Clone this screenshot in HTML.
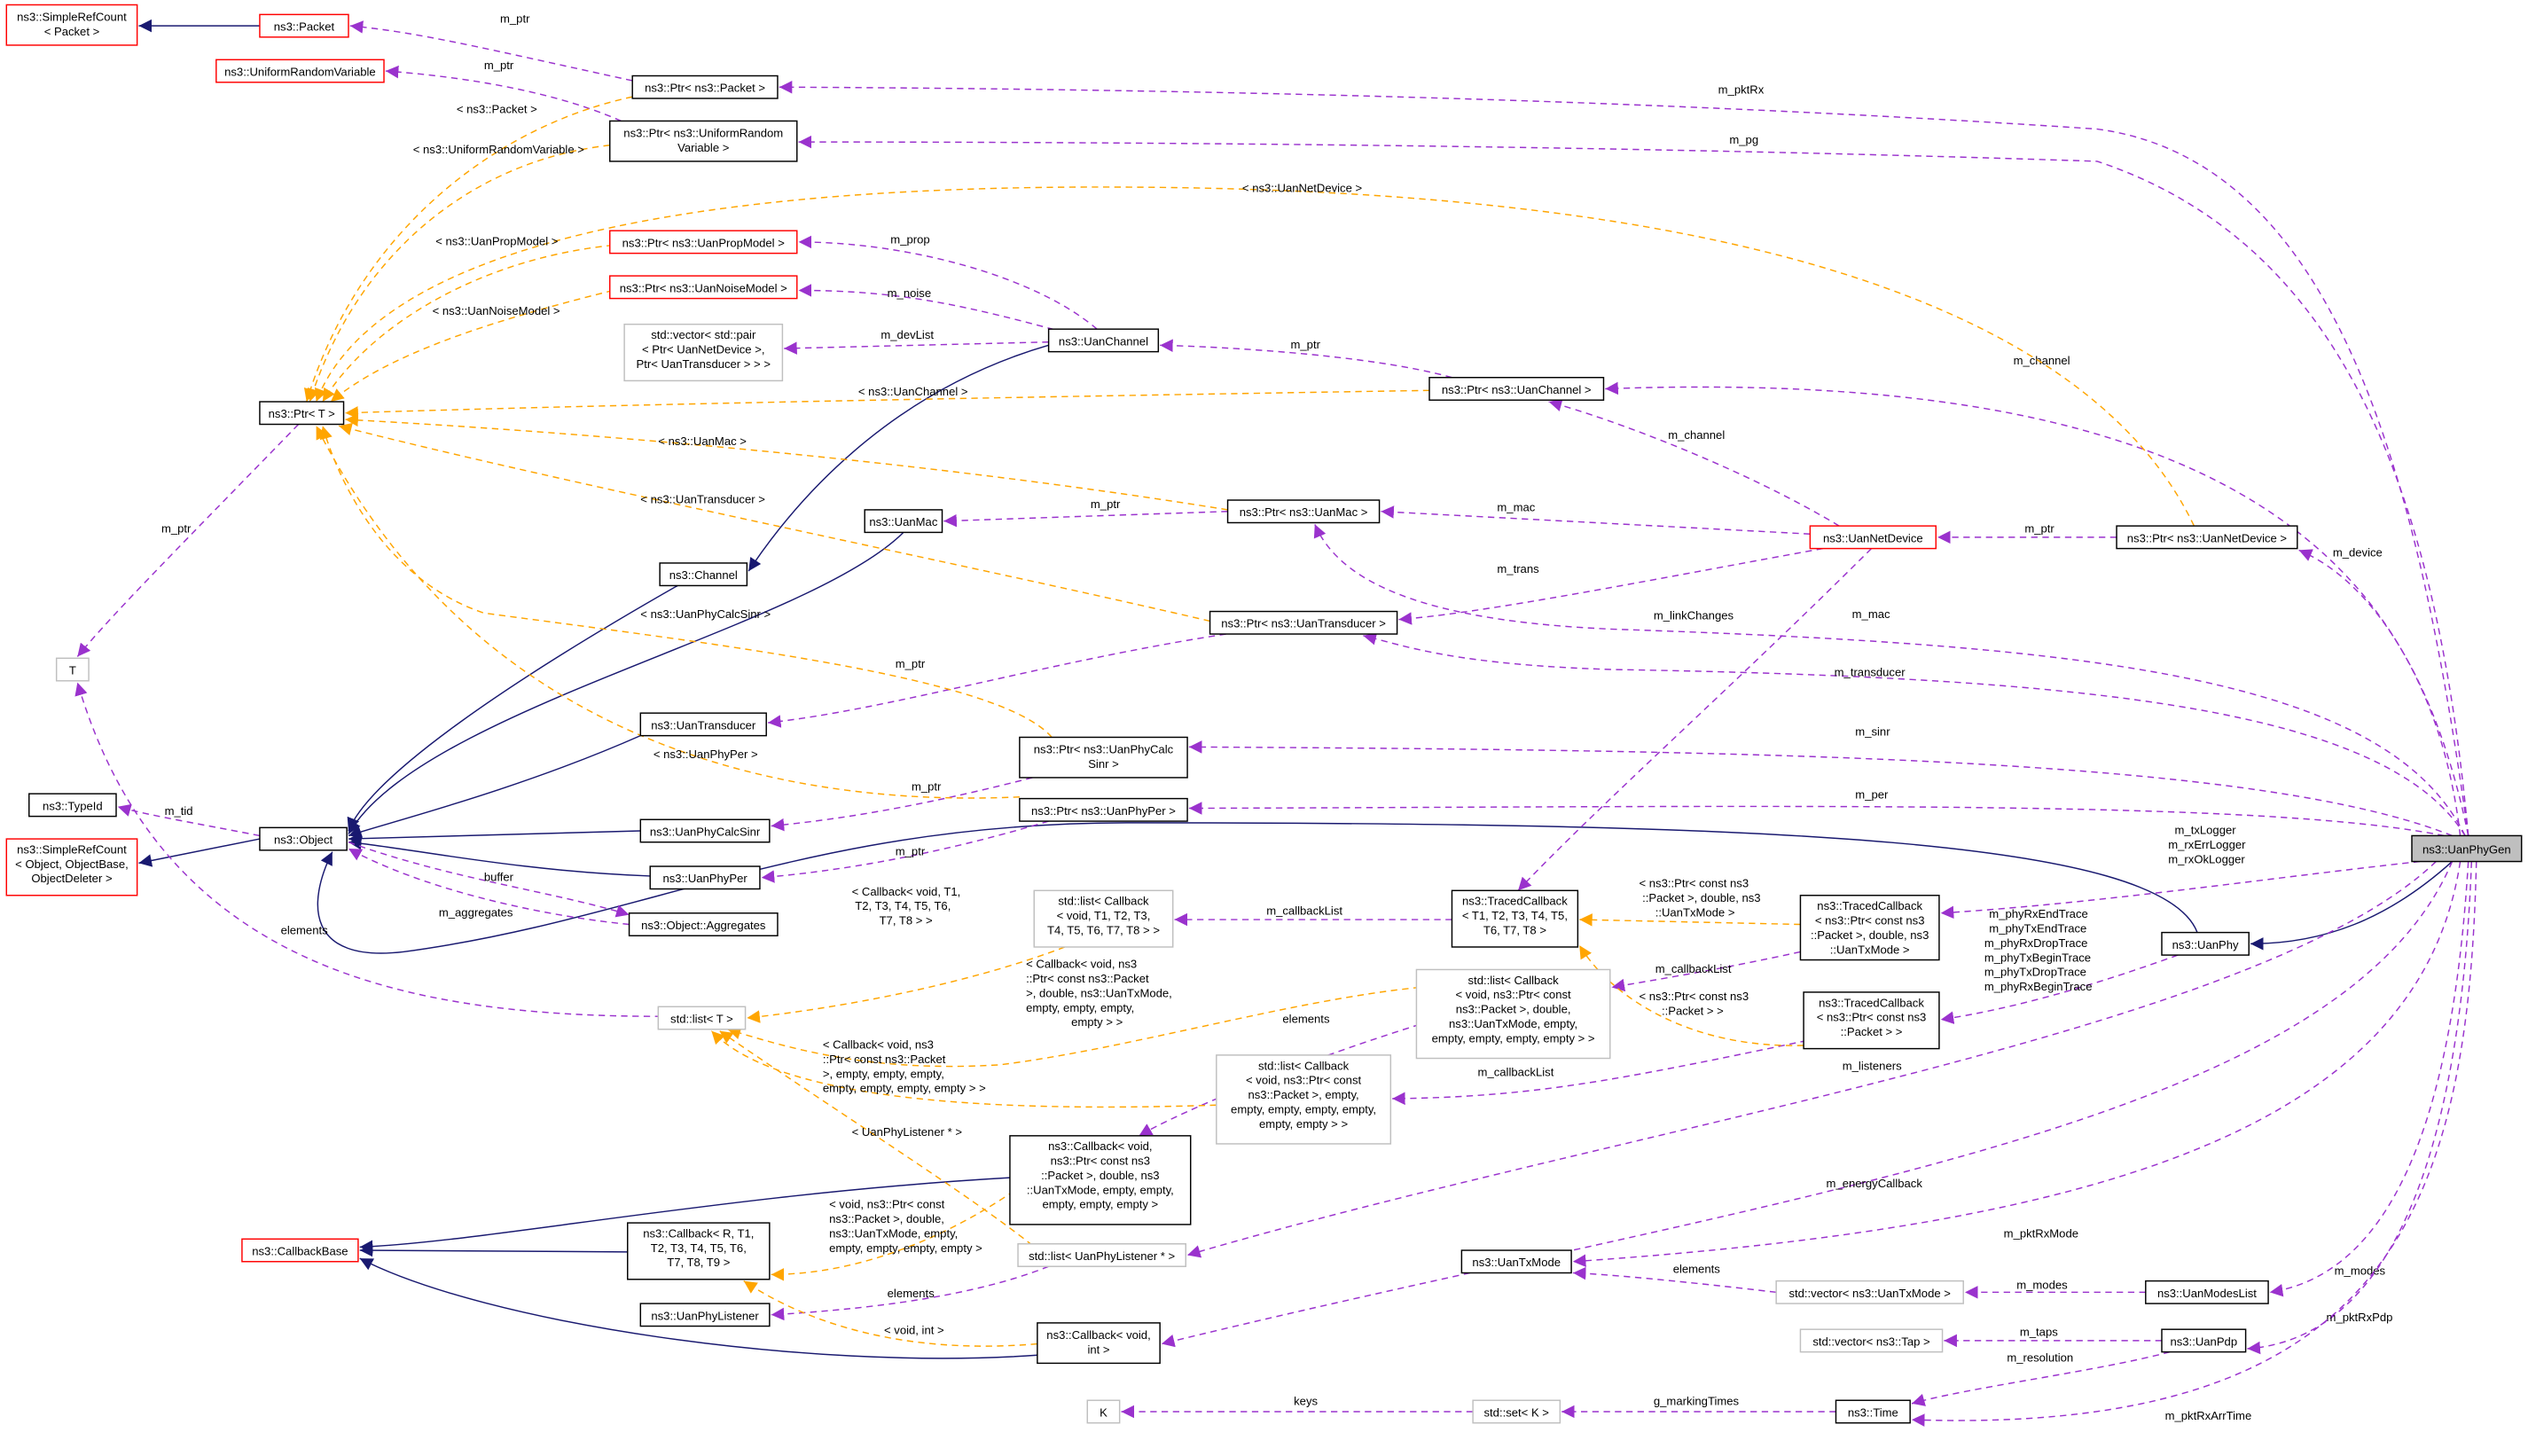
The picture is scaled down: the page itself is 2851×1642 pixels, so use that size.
<!DOCTYPE html>
<html><head><meta charset="utf-8"><style>
html,body{margin:0;padding:0;background:#fff;}
svg{display:block;font-family:"Liberation Sans",sans-serif;}
text{font-size:7.2px;fill:#000;}
.n{fill:#fff;stroke:#000;stroke-width:0.8;}
.r{fill:#fff;stroke:#ff0000;stroke-width:0.8;}
.g{fill:#fff;stroke:#bfbfbf;stroke-width:0.8;}
.p{fill:none;stroke:#9a32cd;stroke-width:0.8;stroke-dasharray:4,3;marker-end:url(#mp);}
.o{fill:none;stroke:#ffa500;stroke-width:0.8;stroke-dasharray:4,3;marker-end:url(#mo);}
.b{fill:none;stroke:#191970;stroke-width:0.8;marker-end:url(#mb);}
</style></head><body>
<svg width="2851" height="1642" viewBox="0 0 1567 902.5" xmlns="http://www.w3.org/2000/svg">
<defs>
<marker id="mp" markerUnits="userSpaceOnUse" markerWidth="9" markerHeight="8" refX="8" refY="4" orient="auto"><path d="M0,0 L8,4 L0,8z" fill="#9a32cd"/></marker>
<marker id="mo" markerUnits="userSpaceOnUse" markerWidth="9" markerHeight="8" refX="8" refY="4" orient="auto"><path d="M0,0 L8,4 L0,8z" fill="#ffa500"/></marker>
<marker id="mb" markerUnits="userSpaceOnUse" markerWidth="9" markerHeight="8" refX="8" refY="4" orient="auto"><path d="M0,0 L8,4 L0,8z" fill="#191970"/></marker>
</defs>
<rect width="1567" height="902.5" fill="#fff"/>
<!-- navy edges -->
<path class="b" d="M161,16 L86,16"/>
<path class="b" d="M650,214 C560,240 500,300 464,354"/>
<path class="b" d="M560,330 C500,390 260,440 216,517"/>
<path class="b" d="M420,363 C320,420 230,480 216,515"/>
<path class="b" d="M397,456 C320,490 240,510 216,518"/>
<path class="b" d="M397,515 L216,520"/>
<path class="b" d="M403,543 C320,540 250,525 216,522"/>
<path class="b" d="M1362,578 C1340,520 1100,510 700,510 C500,510 400,570 250,590 C190,597 190,560 206,528"/>
<path class="b" d="M1520,534 C1480,570 1440,585 1395,585"/>
<path class="b" d="M161,520 L86,535"/>
<path class="b" d="M626,730 C450,740 300,770 223,773"/>
<path class="b" d="M389,776 L223,775"/>
<path class="b" d="M643,840 C500,850 300,820 223,780"/>
<!-- purple edges -->
<path class="p" d="M392,50 C300,30 260,20 217,16"/><text x="310" y="14">m_ptr</text>
<path class="p" d="M385,75 C340,55 280,47 239,44"/><text x="300" y="43">m_ptr</text>
<path class="p" d="M1530,518 C1500,300 1450,100 1300,80 C1000,60 700,55 483,54"/><text x="1065" y="58">m_pktRx</text>
<path class="p" d="M1530,518 C1510,300 1450,150 1300,100 C1000,90 700,88 495,88"/><text x="1072" y="89">m_pg</text>
<path class="p" d="M680,204 C640,170 560,150 495,150"/><text x="552" y="151">m_prop</text>
<path class="p" d="M660,206 C600,190 560,180 495,180"/><text x="550" y="184">m_noise</text>
<path class="p" d="M650,212 L486,216"/><text x="546" y="210">m_devList</text>
<path class="p" d="M900,234 C850,220 760,215 719,214"/><text x="800" y="216">m_ptr</text>
<path class="p" d="M1525,518 C1500,300 1300,230 995,241"/><text x="1248" y="226">m_channel</text>
<path class="p" d="M1140,326 C1080,290 1000,260 960,249"/><text x="1034" y="272">m_channel</text>
<path class="p" d="M1122,331 L856,317"/><text x="928" y="317">m_mac</text>
<path class="p" d="M761,317 L585,323"/><text x="676" y="315">m_ptr</text>
<path class="p" d="M1130,340 C1020,360 920,380 867,384"/><text x="928" y="355">m_trans</text>
<path class="p" d="M1312,333 L1201,333"/><text x="1255" y="330">m_ptr</text>
<path class="p" d="M1530,518 C1510,420 1470,360 1425,341"/><text x="1446" y="345">m_device</text>
<path class="p" d="M1160,340 C1080,420 990,500 941,552"/><text x="1025" y="384">m_linkChanges</text>
<path class="p" d="M1528,518 C1480,420 1300,400 1000,390 C880,385 830,360 815,325"/><text x="1148" y="383">m_mac</text>
<path class="p" d="M1528,518 C1480,440 1300,420 1000,415 C900,412 870,400 845,394"/><text x="1137" y="419">m_transducer</text>
<path class="p" d="M760,393 C650,410 550,440 476,448"/><text x="555" y="414">m_ptr</text>
<path class="p" d="M1520,518 C1400,470 1100,465 737,463"/><text x="1150" y="456">m_sinr</text>
<path class="p" d="M1515,518 C1400,495 1100,500 737,501"/><text x="1150" y="495">m_per</text>
<path class="p" d="M640,482 C570,500 520,508 478,512"/><text x="565" y="490">m_ptr</text>
<path class="p" d="M650,509 C580,530 520,540 472,544"/><text x="555" y="530">m_ptr</text>
<path class="p" d="M185,263 C120,330 70,380 48,407"/><text x="100" y="330">m_ptr</text>
<path class="p" d="M161,518 C120,510 90,505 73,500"/><text x="102" y="505">m_tid</text>
<path class="p" d="M390,573 C330,567 260,550 216,526"/><text x="272" y="568">m_aggregates</text>
<path class="p" d="M216,522 C280,545 340,552 390,567"/><text x="300" y="546">buffer</text>
<path class="p" d="M410,630 C250,630 100,600 48,423"/><text x="174" y="579">elements</text>
<path class="p" d="M900,570 L728,570"/><text x="785" y="567">m_callbackList</text>
<path class="p" d="M1116,590 C1070,600 1040,605 999,612"/><text x="1026" y="603">m_callbackList</text>
<path class="p" d="M1120,645 C1000,670 950,680 863,681"/><text x="916" y="667">m_callbackList</text>
<path class="p" d="M1500,534 C1400,545 1300,560 1203,566"/><text x="1348" y="517">m_txLogger</text><text x="1344" y="526">m_rxErrLogger</text><text x="1344" y="535">m_rxOkLogger</text>
<path class="p" d="M1350,592 C1300,610 1250,625 1203,632"/><text x="1233" y="569">m_phyRxEndTrace</text><text x="1233" y="578">m_phyTxEndTrace</text><text x="1230" y="587">m_phyRxDropTrace</text><text x="1230" y="596">m_phyTxBeginTrace</text><text x="1230" y="605">m_phyTxDropTrace</text><text x="1230" y="614">m_phyRxBeginTrace</text>
<path class="p" d="M880,635 C800,660 730,690 706,704"/><text x="795" y="634">elements</text>
<path class="p" d="M1510,534 C1400,640 1000,700 736,778"/><text x="1142" y="663">m_listeners</text>
<path class="p" d="M1520,534 C1450,700 1100,740 720,833"/><text x="1132" y="736">m_energyCallback</text>
<path class="p" d="M650,785 C600,805 530,812 478,815"/><text x="550" y="804">elements</text>
<path class="p" d="M1525,534 C1500,700 1300,760 975,782"/><text x="1242" y="767">m_pktRxMode</text>
<path class="p" d="M1101,801 C1050,795 1000,790 975,789"/><text x="1037" y="789">elements</text>
<path class="p" d="M1330,801 L1218,801"/><text x="1250" y="799">m_modes</text>
<path class="p" d="M1530,534 C1520,700 1480,790 1407,801"/><text x="1447" y="790">m_modes</text>
<path class="p" d="M1340,831 L1205,831"/><text x="1252" y="828">m_taps</text>
<path class="p" d="M1532,534 C1525,720 1480,830 1393,836"/><text x="1442" y="819">m_pktRxPdp</text>
<path class="p" d="M1345,838 C1300,850 1220,860 1185,870"/><text x="1244" y="844">m_resolution</text>
<path class="p" d="M1535,534 C1530,750 1480,890 1185,880"/><text x="1342" y="880">m_pktRxArrTime</text>
<path class="p" d="M913,875 L695,875"/><text x="802" y="871">keys</text>
<path class="p" d="M1138,875 L968,875"/><text x="1025" y="871">g_markingTimes</text>
<!-- orange edges -->
<path class="o" d="M392,60 C300,80 220,150 190,249"/><text x="283" y="70">&lt; ns3::Packet &gt;</text>
<path class="o" d="M378,90 C290,100 220,160 192,249"/><text x="256" y="95">&lt; ns3::UniformRandomVariable &gt;</text>
<path class="o" d="M1360,326 C1300,200 1100,118 700,116 C400,114 230,160 196,249"/><text x="770" y="119">&lt; ns3::UanNetDevice &gt;</text>
<path class="o" d="M380,152 C300,160 230,200 200,249"/><text x="270" y="152">&lt; ns3::UanPropModel &gt;</text>
<path class="o" d="M380,180 C300,200 240,220 205,249"/><text x="268" y="195">&lt; ns3::UanNoiseModel &gt;</text>
<path class="o" d="M886,242 C700,245 400,250 214,256"/><text x="532" y="245">&lt; ns3::UanChannel &gt;</text>
<path class="o" d="M761,316 C600,290 400,270 214,260"/><text x="408" y="276">&lt; ns3::UanMac &gt;</text>
<path class="o" d="M750,385 C600,350 350,300 210,264"/><text x="397" y="312">&lt; ns3::UanTransducer &gt;</text>
<path class="o" d="M652,457 C620,420 450,400 300,380 C240,360 210,300 200,264"/><text x="397" y="383">&lt; ns3::UanPhyCalcSinr &gt;</text>
<path class="o" d="M632,494 C500,500 300,470 196,264"/><text x="405" y="470">&lt; ns3::UanPhyPer &gt;</text>
<path class="o" d="M660,587 C600,610 520,625 463,631"/><text x="528" y="555">&lt; Callback&lt; void, T1,</text><text x="530" y="564">T2, T3, T4, T5, T6,</text><text x="545" y="573">T7, T8 &gt; &gt;</text>
<path class="o" d="M880,612 C800,620 700,650 620,660 C540,665 490,650 451,638"/><text x="636" y="600">&lt; Callback&lt; void, ns3</text><text x="636" y="609">::Ptr&lt; const ns3::Packet</text><text x="636" y="618">&gt;, double, ns3::UanTxMode,</text><text x="636" y="627">empty, empty, empty,</text><text x="664" y="636">empty &gt; &gt;</text>
<path class="o" d="M754,685 C600,690 480,680 441,639"/><text x="510" y="650">&lt; Callback&lt; void, ns3</text><text x="510" y="659">::Ptr&lt; const ns3::Packet</text><text x="510" y="668">&gt;, empty, empty, empty,</text><text x="510" y="677">empty, empty, empty, empty &gt; &gt;</text>
<path class="o" d="M640,772 C600,740 520,690 446,639"/><text x="528" y="704">&lt; UanPhyListener * &gt;</text>
<path class="o" d="M1116,573 L979,570"/><text x="1016" y="550">&lt; ns3::Ptr&lt; const ns3</text><text x="1018" y="559">::Packet &gt;, double, ns3</text><text x="1026" y="568">::UanTxMode &gt;</text>
<path class="o" d="M1118,648 C1050,650 1000,620 979,586"/><text x="1016" y="620">&lt; ns3::Ptr&lt; const ns3</text><text x="1030" y="629">::Packet &gt; &gt;</text>
<path class="o" d="M640,730 C600,760 540,790 478,790"/><text x="514" y="749">&lt; void, ns3::Ptr&lt; const</text><text x="514" y="758">ns3::Packet &gt;, double,</text><text x="514" y="767">ns3::UanTxMode, empty,</text><text x="514" y="776">empty, empty, empty, empty &gt;</text>
<path class="o" d="M643,833 C560,840 500,820 461,794"/><text x="548" y="827">&lt; void, int &gt;</text>
<!-- nodes -->
<g text-anchor="middle">
<rect class="r" x="4" y="3" width="81" height="25"/><text x="44.5" y="13">ns3::SimpleRefCount</text><text x="44.5" y="22">&lt; Packet &gt;</text>
<rect class="r" x="161" y="9" width="55" height="14"/><text x="188.5" y="19">ns3::Packet</text>
<rect class="r" x="134" y="37" width="104" height="14"/><text x="186" y="47">ns3::UniformRandomVariable</text>
<rect class="n" x="392" y="47" width="90" height="14"/><text x="437" y="57">ns3::Ptr&lt; ns3::Packet &gt;</text>
<rect class="n" x="378" y="75" width="116" height="25"/><text x="436" y="85">ns3::Ptr&lt; ns3::UniformRandom</text><text x="436" y="94">Variable &gt;</text>
<rect class="r" x="378" y="143" width="116" height="14"/><text x="436" y="153">ns3::Ptr&lt; ns3::UanPropModel &gt;</text>
<rect class="r" x="378" y="171" width="116" height="14"/><text x="436" y="181">ns3::Ptr&lt; ns3::UanNoiseModel &gt;</text>
<rect class="g" x="387" y="201" width="98" height="35"/><text x="436" y="210">std::vector&lt; std::pair</text><text x="436" y="219">&lt; Ptr&lt; UanNetDevice &gt;,</text><text x="436" y="228">Ptr&lt; UanTransducer &gt; &gt; &gt;</text>
<rect class="n" x="650" y="204" width="68" height="14"/><text x="684" y="214">ns3::UanChannel</text>
<rect class="n" x="161" y="249" width="52" height="14"/><text x="187" y="259">ns3::Ptr&lt; T &gt;</text>
<rect class="n" x="886" y="234" width="108" height="14"/><text x="940" y="244">ns3::Ptr&lt; ns3::UanChannel &gt;</text>
<rect class="n" x="536" y="316" width="48" height="14"/><text x="560" y="326">ns3::UanMac</text>
<rect class="n" x="761" y="310" width="94" height="14"/><text x="808" y="320">ns3::Ptr&lt; ns3::UanMac &gt;</text>
<rect class="r" x="1122" y="326" width="78" height="14"/><text x="1161" y="336">ns3::UanNetDevice</text>
<rect class="n" x="1312" y="326" width="112" height="14"/><text x="1368" y="336">ns3::Ptr&lt; ns3::UanNetDevice &gt;</text>
<rect class="n" x="409" y="349" width="54" height="14"/><text x="436" y="359">ns3::Channel</text>
<rect class="n" x="750" y="379" width="116" height="14"/><text x="808" y="389">ns3::Ptr&lt; ns3::UanTransducer &gt;</text>
<rect class="g" x="35" y="408" width="20" height="14"/><text x="45" y="418">T</text>
<rect class="n" x="397" y="442" width="78" height="14"/><text x="436" y="452">ns3::UanTransducer</text>
<rect class="n" x="632" y="457" width="104" height="25"/><text x="684" y="467">ns3::Ptr&lt; ns3::UanPhyCalc</text><text x="684" y="476">Sinr &gt;</text>
<rect class="n" x="632" y="495" width="104" height="14"/><text x="684" y="505">ns3::Ptr&lt; ns3::UanPhyPer &gt;</text>
<rect class="n" x="18" y="492" width="54" height="14"/><text x="45" y="502">ns3::TypeId</text>
<rect class="n" x="161" y="513" width="54" height="14"/><text x="188" y="523">ns3::Object</text>
<rect class="r" x="4" y="520" width="81" height="35"/><text x="44.5" y="529">ns3::SimpleRefCount</text><text x="44.5" y="538">&lt; Object, ObjectBase,</text><text x="44.5" y="547">ObjectDeleter &gt;</text>
<rect class="n" x="397" y="508" width="80" height="14"/><text x="437" y="518">ns3::UanPhyCalcSinr</text>
<rect class="n" x="403" y="537" width="68" height="14"/><text x="437" y="547">ns3::UanPhyPer</text>
<rect class="n" x="390" y="566" width="92" height="14"/><text x="436" y="576">ns3::Object::Aggregates</text>
<rect class="g" x="641" y="552" width="86" height="35"/><text x="684" y="561">std::list&lt; Callback</text><text x="684" y="570">&lt; void, T1, T2, T3,</text><text x="684" y="579">T4, T5, T6, T7, T8 &gt; &gt;</text>
<rect class="n" x="900" y="552" width="78" height="35"/><text x="939" y="561">ns3::TracedCallback</text><text x="939" y="570">&lt; T1, T2, T3, T4, T5,</text><text x="939" y="579">T6, T7, T8 &gt;</text>
<rect class="n" x="1116" y="555" width="86" height="40"/><text x="1159" y="564">ns3::TracedCallback</text><text x="1159" y="573">&lt; ns3::Ptr&lt; const ns3</text><text x="1159" y="582">::Packet &gt;, double, ns3</text><text x="1159" y="591">::UanTxMode &gt;</text>
<rect class="g" x="878" y="601" width="120" height="55"/><text x="938" y="610">std::list&lt; Callback</text><text x="938" y="619">&lt; void, ns3::Ptr&lt; const</text><text x="938" y="628">ns3::Packet &gt;, double,</text><text x="938" y="637">ns3::UanTxMode, empty,</text><text x="938" y="646">empty, empty, empty, empty &gt; &gt;</text>
<rect class="n" x="1340" y="578" width="54" height="14"/><text x="1367" y="588">ns3::UanPhy</text>
<rect x="1495" y="518" width="68" height="16" fill="#bfbfbf" stroke="#000" stroke-width="0.8"/><text x="1529" y="529">ns3::UanPhyGen</text>
<rect class="n" x="1118" y="615" width="84" height="35"/><text x="1160" y="624">ns3::TracedCallback</text><text x="1160" y="633">&lt; ns3::Ptr&lt; const ns3</text><text x="1160" y="642">::Packet &gt; &gt;</text>
<rect class="g" x="408" y="624" width="54" height="14"/><text x="435" y="634">std::list&lt; T &gt;</text>
<rect class="g" x="754" y="654" width="108" height="55"/><text x="808" y="663">std::list&lt; Callback</text><text x="808" y="672">&lt; void, ns3::Ptr&lt; const</text><text x="808" y="681">ns3::Packet &gt;, empty,</text><text x="808" y="690">empty, empty, empty, empty,</text><text x="808" y="699">empty, empty &gt; &gt;</text>
<rect class="n" x="626" y="704" width="112" height="55"/><text x="682" y="713">ns3::Callback&lt; void,</text><text x="682" y="722">ns3::Ptr&lt; const ns3</text><text x="682" y="731">::Packet &gt;, double, ns3</text><text x="682" y="740">::UanTxMode, empty, empty,</text><text x="682" y="749">empty, empty, empty &gt;</text>
<rect class="r" x="150" y="768" width="72" height="14"/><text x="186" y="778">ns3::CallbackBase</text>
<rect class="n" x="389" y="758" width="88" height="35"/><text x="433" y="767">ns3::Callback&lt; R, T1,</text><text x="433" y="776">T2, T3, T4, T5, T6,</text><text x="433" y="785">T7, T8, T9 &gt;</text>
<rect class="g" x="631" y="771" width="104" height="14"/><text x="683" y="781">std::list&lt; UanPhyListener * &gt;</text>
<rect class="n" x="397" y="808" width="80" height="14"/><text x="437" y="818">ns3::UanPhyListener</text>
<rect class="n" x="643" y="820" width="76" height="25"/><text x="681" y="830">ns3::Callback&lt; void,</text><text x="681" y="839">int &gt;</text>
<rect class="n" x="906" y="775" width="68" height="14"/><text x="940" y="785">ns3::UanTxMode</text>
<rect class="g" x="1101" y="794" width="116" height="14"/><text x="1159" y="804">std::vector&lt; ns3::UanTxMode &gt;</text>
<rect class="n" x="1330" y="794" width="76" height="14"/><text x="1368" y="804">ns3::UanModesList</text>
<rect class="g" x="1116" y="824" width="88" height="14"/><text x="1160" y="834">std::vector&lt; ns3::Tap &gt;</text>
<rect class="n" x="1340" y="824" width="52" height="14"/><text x="1366" y="834">ns3::UanPdp</text>
<rect class="g" x="674" y="868" width="20" height="14"/><text x="684" y="878">K</text>
<rect class="g" x="913" y="868" width="54" height="14"/><text x="940" y="878">std::set&lt; K &gt;</text>
<rect class="n" x="1138" y="868" width="46" height="14"/><text x="1161" y="878">ns3::Time</text>
</g>
</svg>
</body></html>
